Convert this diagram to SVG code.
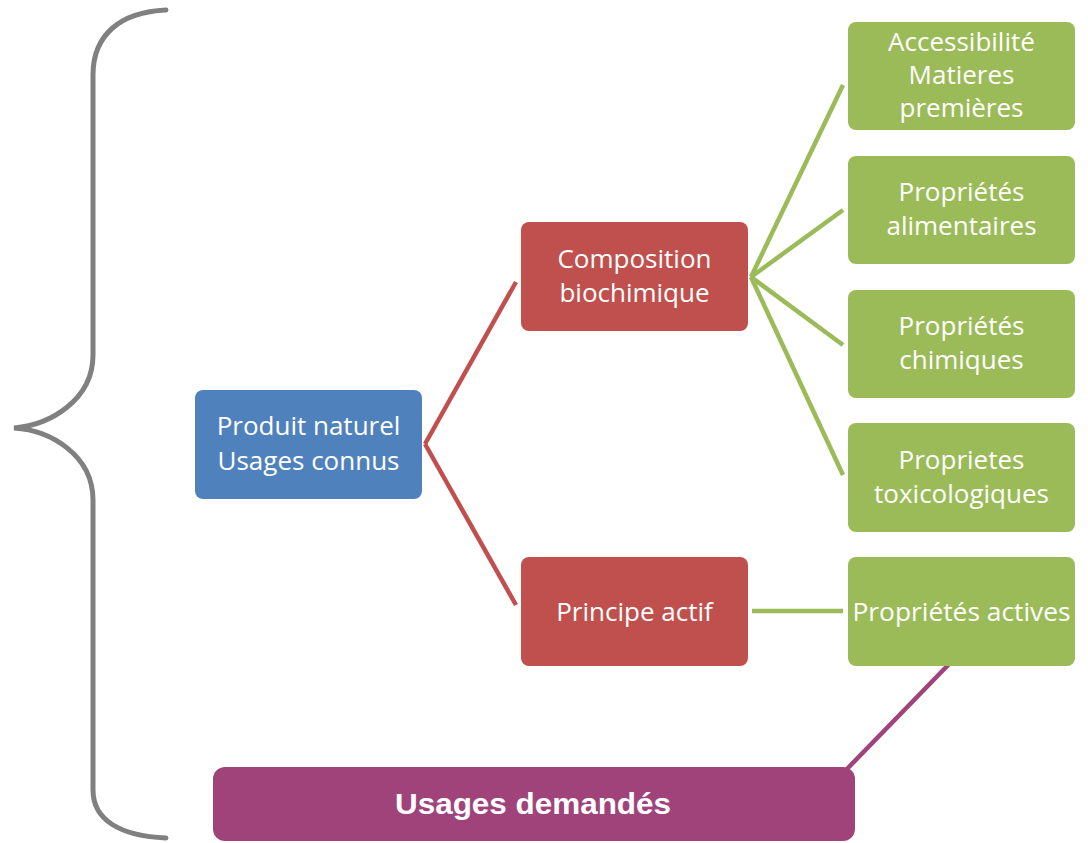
<svg xmlns="http://www.w3.org/2000/svg" width="1088" height="843" viewBox="0 0 1088 843">
<style>
.box{stroke:none}
.blue{fill:#4f81bd}
.red{fill:#c0504d}
.green{fill:#9bbb59}
.purple{fill:#a0437b}
.t{font-family:"Open Sans","Noto Sans",sans-serif;font-size:26px;fill:#ffffff;text-anchor:middle}
.tb{font-family:"Liberation Sans",Arial,sans-serif;font-size:30px;font-weight:bold;fill:#ffffff;text-anchor:middle}
.cr{stroke:#c0504d;stroke-width:4.5;fill:none}
.cg{stroke:#9bbb59;stroke-width:4.5;fill:none}
.cp{stroke:#a0437b;stroke-width:4.5;fill:none}
</style>
<rect width="1088" height="843" fill="#ffffff"/>
<path d="M166,10 C120,12 93,35 93,75 L93,355 C93,400 50,425 14,428 C50,430 93,455 93,500 L93,790 C93,820 120,836 166,838" fill="none" stroke="#808080" stroke-width="5" stroke-linecap="round"/>
<g id="connectors">
<path class="cr" d="M425,444 L516,282"/>
<path class="cr" d="M425,444 L516,605"/>
<path class="cg" d="M751,277 L843,85"/>
<path class="cg" d="M751,277 L843,210"/>
<path class="cg" d="M751,277 L843,345"/>
<path class="cg" d="M751,277 L843,475"/>
<path class="cg" d="M752,611 L843,611"/>
<path class="cp" d="M953,660 L846,770"/>
</g>
<g id="produit">
<rect class="box blue" x="195" y="390" width="227" height="109" rx="8"/>
<text class="t" x="308.5" y="435">Produit naturel</text>
<text class="t" x="308.5" y="470">Usages connus</text>
</g>
<g id="composition">
<rect class="box red" x="521" y="222" width="227" height="109" rx="8"/>
<text class="t" x="634.5" y="268">Composition</text>
<text class="t" x="634.5" y="302">biochimique</text>
</g>
<g id="principe">
<rect class="box red" x="521" y="557" width="227" height="109" rx="8"/>
<text class="t" x="634.5" y="621">Principe actif</text>
</g>
<g id="accessibilite">
<rect class="box green" x="848" y="22" width="227" height="108" rx="8"/>
<text class="t" x="961.5" y="51">Accessibilité</text>
<text class="t" x="961.5" y="84">Matieres</text>
<text class="t" x="961.5" y="117">premières</text>
</g>
<g id="alimentaires">
<rect class="box green" x="848" y="156" width="227" height="108" rx="8"/>
<text class="t" x="961.5" y="201">Propriétés</text>
<text class="t" x="961.5" y="235">alimentaires</text>
</g>
<g id="chimiques">
<rect class="box green" x="848" y="290" width="227" height="108" rx="8"/>
<text class="t" x="961.5" y="335">Propriétés</text>
<text class="t" x="961.5" y="369">chimiques</text>
</g>
<g id="toxicologiques">
<rect class="box green" x="848" y="423" width="227" height="109" rx="8"/>
<text class="t" x="961.5" y="469">Proprietes</text>
<text class="t" x="961.5" y="503">toxicologiques</text>
</g>
<g id="actives">
<rect class="box green" x="848" y="557" width="227" height="109" rx="8"/>
<text class="t" x="961.5" y="621" textLength="218" lengthAdjust="spacingAndGlyphs">Propriétés actives</text>
</g>
<g id="usages">
<rect class="box purple" x="213" y="767" width="642" height="74" rx="12"/>
<text class="tb" x="533" y="814" textLength="276" lengthAdjust="spacingAndGlyphs">Usages demandés</text>
</g>
</svg>
